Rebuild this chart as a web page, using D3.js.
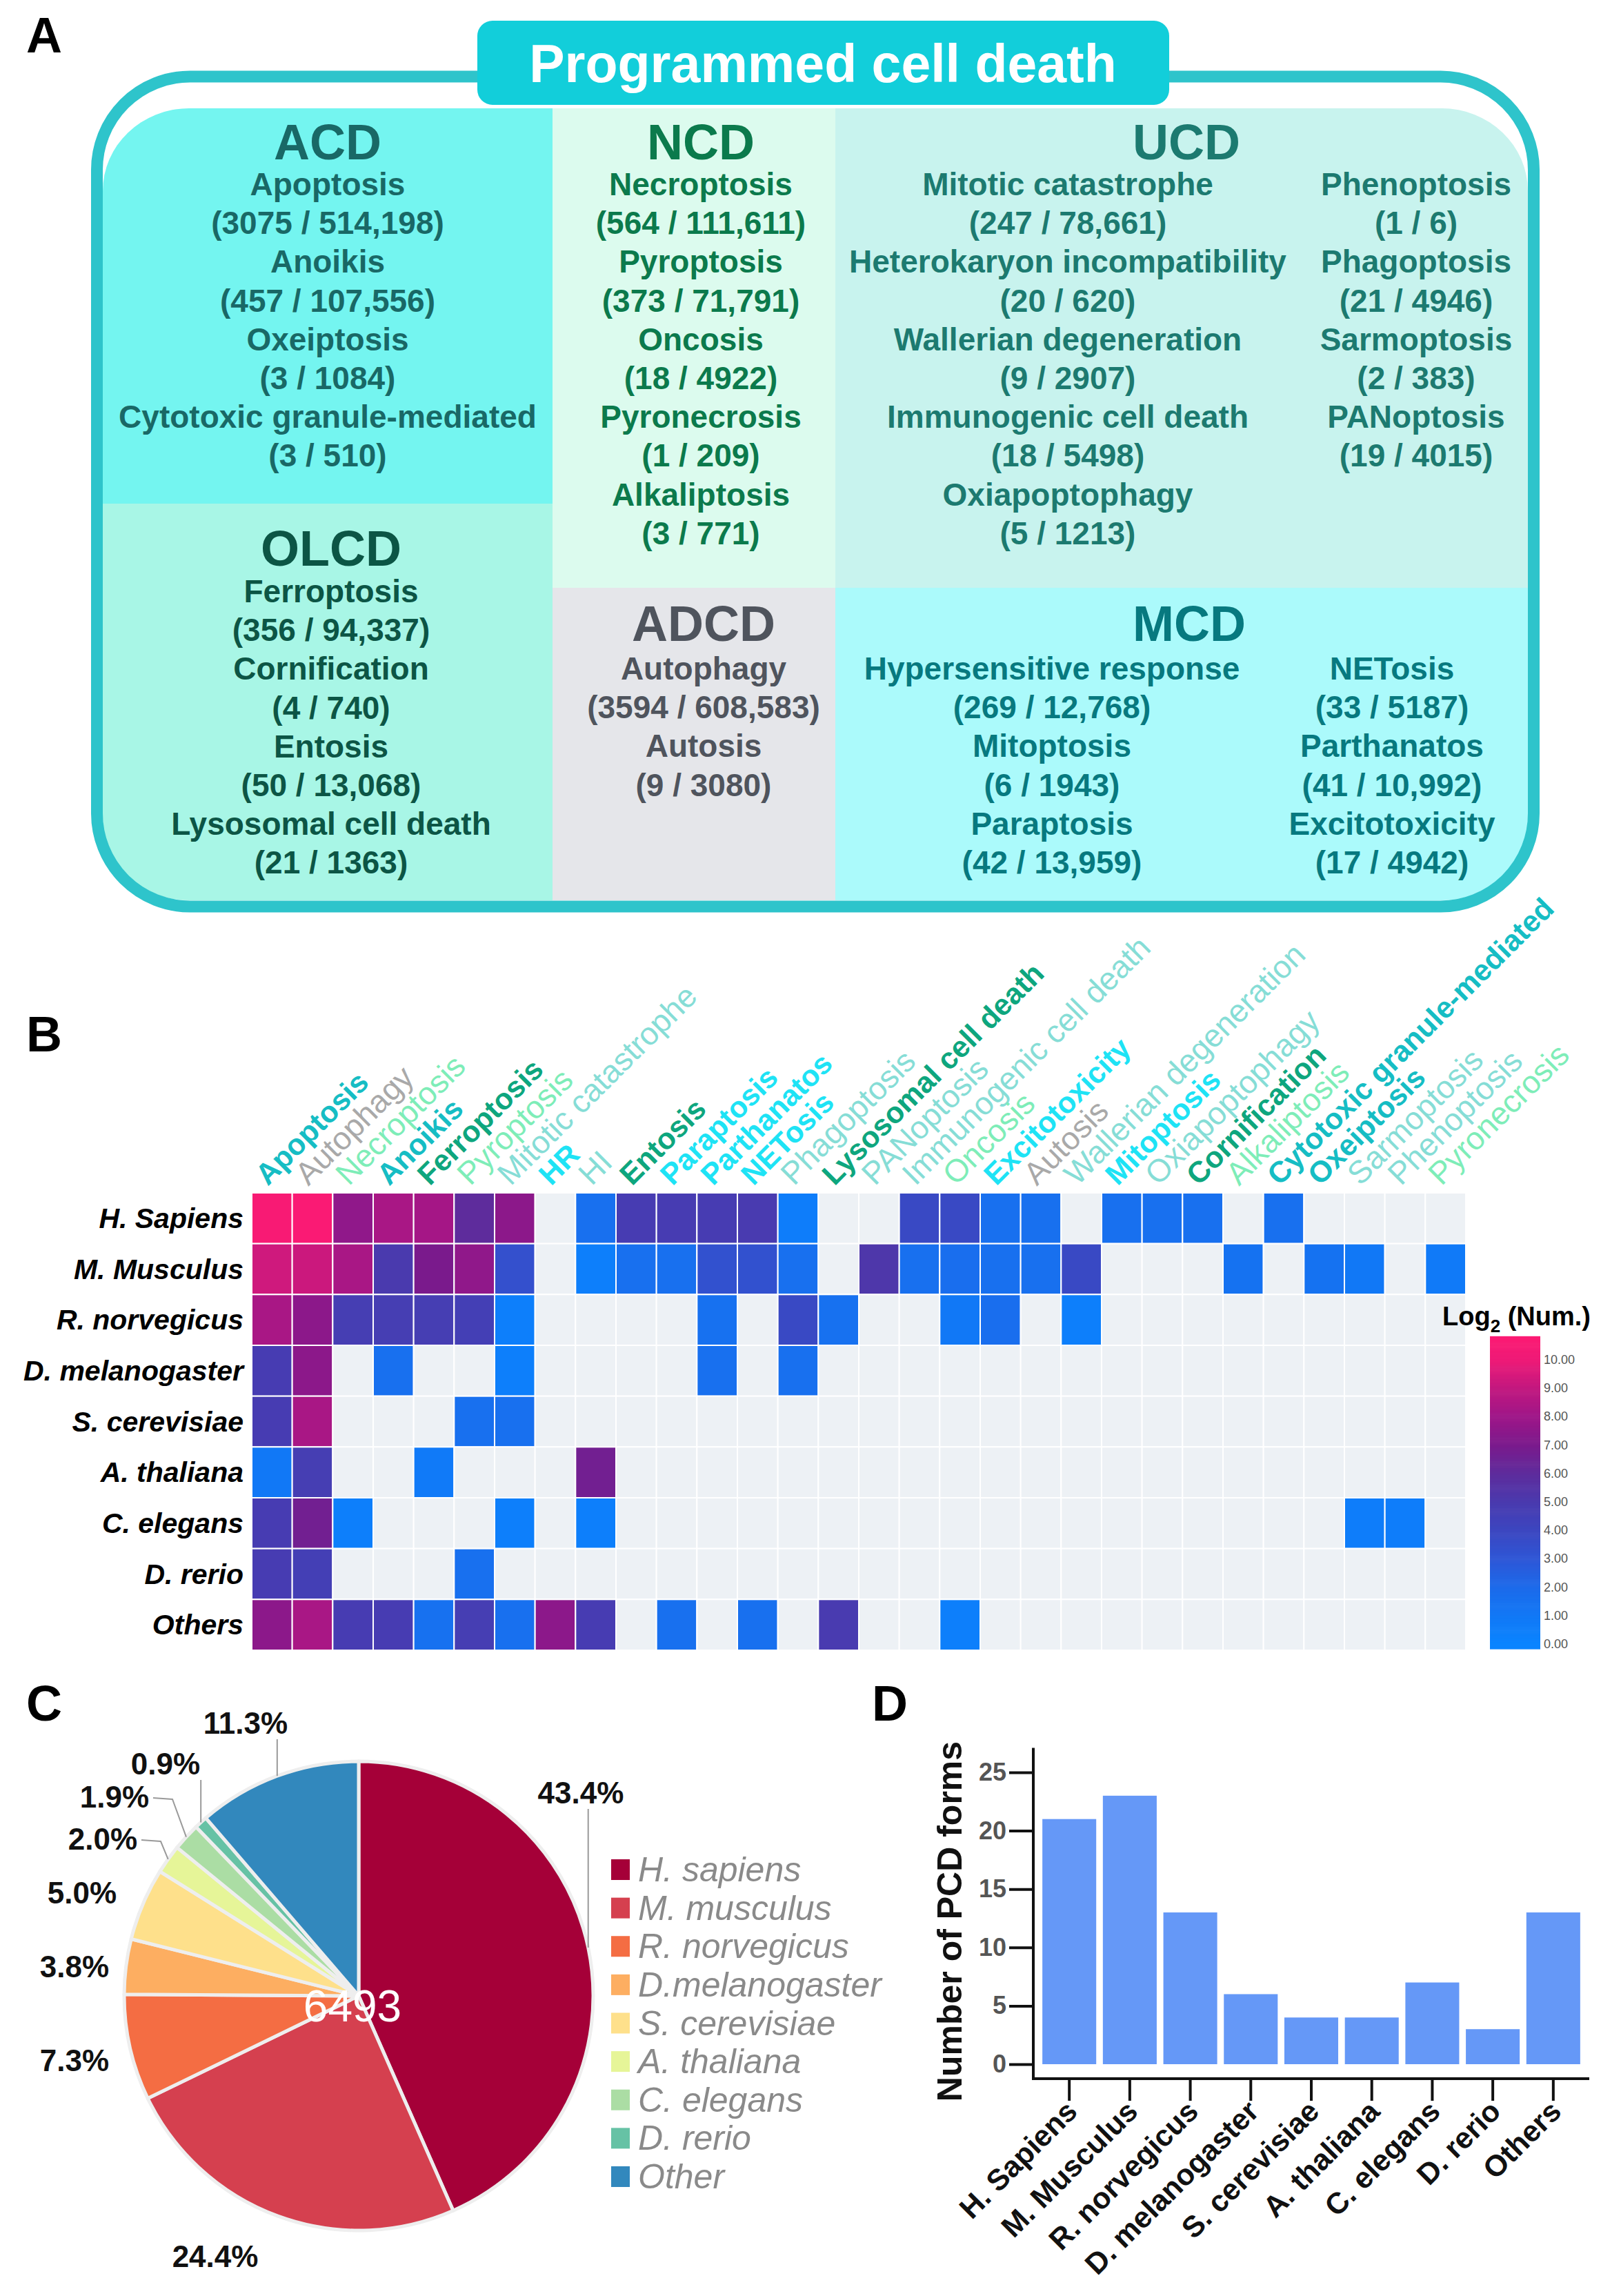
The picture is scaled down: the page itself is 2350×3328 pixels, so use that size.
<!DOCTYPE html>
<html><head><meta charset="utf-8">
<script src="https://cdn.jsdelivr.net/npm/d3@7"></script>
<style>
body{margin:0;background:#fff}
svg{display:block}
text{font-family:"Liberation Sans",Arial,Helvetica,sans-serif}
</style>
</head><body>
<svg id="c" width="2350" height="3328"></svg>
<script>
// ======================= DATA =======================
// Panel A: PCD categories, forms and (species / records) counts
const acdForms = ["Apoptosis","Anoikis","Oxeiptosis","Cytotoxic granule-mediated"];
const acdCounts = [[3075,514198],[457,107556],[3,1084],[3,510]];
const ncdForms = ["Necroptosis","Pyroptosis","Oncosis","Pyronecrosis","Alkaliptosis"];
const ncdCounts = [[564,111611],[373,71791],[18,4922],[1,209],[3,771]];
const ucdFormsLeft = ["Mitotic catastrophe","Heterokaryon incompatibility","Wallerian degeneration","Immunogenic cell death","Oxiapoptophagy"];
const ucdCountsLeft = [[247,78661],[20,620],[9,2907],[18,5498],[5,1213]];
const ucdFormsRight = ["Phenoptosis","Phagoptosis","Sarmoptosis","PANoptosis"];
const ucdCountsRight = [[1,6],[21,4946],[2,383],[19,4015]];
const olcdForms = ["Ferroptosis","Cornification","Entosis","Lysosomal cell death"];
const olcdCounts = [[356,94337],[4,740],[50,13068],[21,1363]];
const adcdForms = ["Autophagy","Autosis"];
const adcdCounts = [[3594,608583],[9,3080]];
const mcdFormsLeft = ["Hypersensitive response","Mitoptosis","Paraptosis"];
const mcdCountsLeft = [[269,12768],[6,1943],[42,13959]];
const mcdFormsRight = ["NETosis","Parthanatos","Excitotoxicity"];
const mcdCountsRight = [[33,5187],[41,10992],[17,4942]];

// Panel B: heatmap (log2 of number), null = no record
const hmForms = ["Apoptosis","Autophagy","Necroptosis","Anoikis","Ferroptosis","Pyroptosis","Mitotic catastrophe","HR","HI","Entosis","Paraptosis","Parthanatos","NETosis","Phagoptosis","Lysosomal cell death","PANoptosis","Immunogenic cell death","Oncosis","Excitotoxicity","Autosis","Wallerian degeneration","Mitoptosis","Oxiapoptophagy","Cornification","Alkaliptosis","Cytotoxic granule-mediated","Oxeiptosis","Sarmoptosis","Phenoptosis","Pyronecrosis"];
const hmFormGroup = ["ACD","ADCD","NCD","ACD","OLCD","NCD","UCD","MCD","UCD","OLCD","MCD","MCD","MCD","UCD","OLCD","UCD","UCD","NCD","MCD","ADCD","UCD","MCD","UCD","OLCD","NCD","ACD","ACD","UCD","UCD","NCD"];
const hmSpecies = ["H. Sapiens","M. Musculus","R. norvegicus","D. melanogaster","S. cerevisiae","A. thaliana","C. elegans","D. rerio","Others"];
const _ = null;
const hmHSapiens     = [10.6,10.7,7.6,8.3,8.2,6.0,7.5,_,1.6,4.8,4.8,4.8,4.9,0.6,_,_,3.8,3.8,1.6,1.6,_,1.6,1.6,1.6,_,1.6,_,_,_,_];
const hmMMusculus    = [9.3,9.2,8.3,5.0,7.0,7.6,3.4,_,0.4,1.6,1.6,3.3,3.3,1.6,_,5.2,1.6,1.7,1.6,1.6,3.8,_,_,_,1.4,_,1.4,1.0,_,0.8];
const hmRNorvegicus  = [8.3,7.5,4.7,4.7,4.7,4.6,0.4,_,_,_,_,1.5,_,3.8,1.5,_,_,1.0,1.7,_,0.4,_,_,_,_,_,_,_,_,_];
const hmDMelanogaster= [4.8,7.5,_,1.6,_,_,0.4,_,_,_,_,1.6,_,1.6,_,_,_,_,_,_,_,_,_,_,_,_,_,_,_,_];
const hmSCerevisiae  = [4.8,8.3,_,_,_,1.6,1.6,_,_,_,_,_,_,_,_,_,_,_,_,_,_,_,_,_,_,_,_,_,_,_];
const hmAThaliana    = [1.0,4.7,_,_,0.8,_,_,_,6.7,_,_,_,_,_,_,_,_,_,_,_,_,_,_,_,_,_,_,_,_,_];
const hmCElegans     = [4.8,6.7,0.4,_,_,_,0.4,_,0.4,_,_,_,_,_,_,_,_,_,_,_,_,_,_,_,_,_,_,0.6,0.6,_];
const hmDRerio       = [4.8,4.6,_,_,_,1.6,_,_,_,_,_,_,_,_,_,_,_,_,_,_,_,_,_,_,_,_,_,_,_,_];
const hmOthers       = [7.5,8.3,4.8,4.8,1.5,4.7,1.6,7.5,4.8,_,1.6,_,1.6,_,4.9,_,_,0.4,_,_,_,_,_,_,_,_,_,_,_,_];
const hmLegendTicks = [0,1,2,3,4,5,6,7,8,9,10];

// Panel C: pie
const pieSpecies = ["H. sapiens","M. musculus","R. norvegicus","D.melanogaster","S. cerevisiae","A. thaliana","C. elegans","D. rerio","Other"];
const piePercent = [43.4,24.4,7.3,3.8,5.0,2.0,1.9,0.9,11.3];
const pieTotal = 6493;

// Panel D: bars
const barSpecies = ["H. Sapiens","M. Musculus","R. norvegicus","D. melanogaster","S. cerevisiae","A. thaliana","C. elegans","D. rerio","Others"];
const barCounts = [21,23,13,6,4,4,7,3,13];
const barTicks = [0,5,10,15,20,25];

// ======================= STYLE / LAYOUT =======================
const FONT = '"Liberation Sans",Arial,Helvetica,sans-serif';
const svg = d3.select("#c");
svg.append("rect").attr("width",2350).attr("height",3328).attr("fill","#fff");

function panelLetter(t,x,y){
  svg.append("text").attr("x",x).attr("y",y).text(t)
    .attr("font-size",72).attr("font-weight","bold").attr("fill","#000");
}
panelLetter("A",38,76);
panelLetter("B",38,1524);
panelLetter("C",38,2494);
panelLetter("D",1264,2494);

// ---------- Panel A ----------
const fmtN = n => n >= 10000 ? d3.format(",")(n) : String(n);
const countText = c => `(${c[0]} / ${fmtN(c[1])})`;

const defs = svg.append("defs");
defs.append("clipPath").attr("id","panelClip")
  .append("rect").attr("x",149).attr("y",157).attr("width",2066).attr("height",1148).attr("rx",125).attr("ry",120);

const boxes = [
  {x0:149,x1:801,y0:157,y1:730,fill:"#74F5F0"},
  {x0:149,x1:801,y0:730,y1:1305,fill:"#A8F6E6"},
  {x0:801,x1:1211,y0:157,y1:852,fill:"#DCFBEE"},
  {x0:801,x1:1211,y0:852,y1:1305,fill:"#E5E6EA"},
  {x0:1211,x1:2215,y0:157,y1:852,fill:"#C8F3EE"},
  {x0:1211,x1:2215,y0:852,y1:1305,fill:"#ABFAFB"}
];
const gA = svg.append("g").attr("clip-path","url(#panelClip)");
gA.selectAll("rect").data(boxes).join("rect")
  .attr("x",d=>d.x0).attr("y",d=>d.y0).attr("width",d=>d.x1-d.x0).attr("height",d=>d.y1-d.y0)
  .attr("fill",d=>d.fill);

svg.append("rect").attr("x",140.5).attr("y",111).attr("width",2083).attr("height",1203)
  .attr("rx",135).attr("ry",135).attr("fill","none").attr("stroke","#2EC4CB").attr("stroke-width",17);

svg.append("rect").attr("x",692).attr("y",30).attr("width",1003).attr("height",122).attr("rx",22)
  .attr("fill","#12CEDA");
svg.append("text").attr("x",1193).attr("y",119).attr("text-anchor","middle")
  .attr("font-size",77).attr("font-weight","bold").attr("fill","#fff").text("Programmed cell death");

const LINE = 56.2;
const groupsA = [
  {name:"ACD", tx:475, ty:231, y0:283, color:"#196866", cols:[{x:475,f:acdForms,c:acdCounts}]},
  {name:"NCD", tx:1016, ty:231, y0:283, color:"#0B7A4C", cols:[{x:1016,f:ncdForms,c:ncdCounts}]},
  {name:"UCD", tx:1720, ty:231, y0:283, color:"#1C7A70", cols:[{x:1548,f:ucdFormsLeft,c:ucdCountsLeft},{x:2053,f:ucdFormsRight,c:ucdCountsRight}]},
  {name:"OLCD", tx:480, ty:820, y0:873, color:"#0C5545", cols:[{x:480,f:olcdForms,c:olcdCounts}]},
  {name:"ADCD", tx:1020, ty:929, y0:985, color:"#4F545D", cols:[{x:1020,f:adcdForms,c:adcdCounts}]},
  {name:"MCD", tx:1724, ty:929, y0:985, color:"#07797F", cols:[{x:1525,f:mcdFormsLeft,c:mcdCountsLeft},{x:2018,f:mcdFormsRight,c:mcdCountsRight}]}
];
groupsA.forEach(g=>{
  svg.append("text").attr("x",g.tx).attr("y",g.ty).attr("text-anchor","middle")
    .attr("font-size",72).attr("font-weight","bold").attr("fill",g.color).text(g.name);
  g.cols.forEach(col=>{
    const lines = [];
    col.f.forEach((f,i)=>{ lines.push(f); lines.push(countText(col.c[i])); });
    svg.append("g").selectAll("text").data(lines).join("text")
      .attr("x",col.x).attr("y",(d,i)=>g.y0 + i*LINE).attr("text-anchor","middle")
      .attr("font-size",46).attr("font-weight","bold").attr("fill",g.color).text(d=>d);
  });
});

// ---------- Panel B: heatmap ----------
const hmRows = [hmHSapiens,hmMMusculus,hmRNorvegicus,hmDMelanogaster,hmSCerevisiae,hmAThaliana,hmCElegans,hmDRerio,hmOthers];
const hmX = d3.scaleBand().domain(hmForms).range([365,2125]);
const hmY = d3.scaleBand().domain(hmSpecies).range([1729,2392]);
const heatColor = d3.scaleLinear()
  .domain([0,1,2,3,4,5,6,7,8,9,10,11])
  .range(["#0A84FF","#1178F6","#1C6AEA","#2E56D6","#3C46C0","#4A3AAE","#5E2C9C","#7A1A8C","#9E1688","#C2187F","#EE1A77","#FF1A72"])
  .clamp(true);
const groupColor = {ACD:"#16BDC4",ADCD:"#A9A9A9",NCD:"#7EEDB8",OLCD:"#0EA67E",UCD:"#86DDD6",MCD:"#1EE3F5"};
const groupWeight = {ACD:"bold",ADCD:"normal",NCD:"normal",OLCD:"bold",UCD:"normal",MCD:"bold"};
const groupSize = {ACD:43,ADCD:46,NCD:46,OLCD:43,UCD:46,MCD:43};

const cells = [];
hmSpecies.forEach((s,ri)=>hmForms.forEach((f,ci)=>cells.push({s,f,v:hmRows[ri][ci]})));
svg.append("g").selectAll("rect").data(cells).join("rect")
  .attr("x",d=>hmX(d.f)).attr("y",d=>hmY(d.s))
  .attr("width",hmX.bandwidth()).attr("height",hmY.bandwidth())
  .attr("fill",d=>d.v===null?"#EDF1F5":heatColor(d.v))
  .attr("stroke","#ffffff").attr("stroke-width",2);

svg.append("g").selectAll("text").data(hmSpecies).join("text")
  .attr("x",353).attr("y",d=>hmY(d)+hmY.bandwidth()/2+14)
  .attr("text-anchor","end").attr("font-size",41).attr("font-weight","bold").attr("font-style","italic")
  .attr("fill","#000").text(d=>d);

svg.append("g").selectAll("text").data(hmForms).join("text")
  .attr("transform",d=>`translate(${hmX(d)+hmX.bandwidth()/2-6},1720) rotate(-45)`)
  .attr("font-size",(d,i)=>groupSize[hmFormGroup[i]])
  .attr("font-weight",(d,i)=>groupWeight[hmFormGroup[i]])
  .attr("fill",(d,i)=>groupColor[hmFormGroup[i]]).text(d=>d);

// legend
const legY = d3.scaleLinear().domain([0,10]).range([2383,1971]);
const legSteps = d3.range(-0.17,10.8,0.05);
svg.append("g").selectAll("rect").data(legSteps).join("rect")
  .attr("x",2160).attr("width",73)
  .attr("y",d=>legY(d+0.05)).attr("height",legY(0)-legY(0.05)+0.6)
  .attr("fill",d=>heatColor(d+0.025));
svg.append("g").selectAll("text").data(hmLegendTicks).join("text")
  .attr("x",2238).attr("y",d=>legY(d)+6).attr("font-size",18).attr("fill","#555")
  .text(d=>d3.format(".2f")(d));
const lt = svg.append("text").attr("x",2091).attr("y",1921).attr("font-size",38).attr("font-weight","bold").attr("fill","#000");
lt.append("tspan").text("Log");
lt.append("tspan").attr("font-size",26).attr("dy",10).text("2");
lt.append("tspan").attr("dy",-10).text(" (Num.)");

// ---------- Panel C: pie ----------
const pieColors = ["#A50038","#D5404F","#F46D43","#FDAE61","#FEE08B","#E6F598","#ABDDA4","#66C2A5","#3288BD"];
const pieCx = 520, pieCy = 2893, pieR = 340;
const pieArcs = d3.pie().sort(null).value(d=>d)(piePercent);
const arcGen = d3.arc().innerRadius(0).outerRadius(pieR);
const gP = svg.append("g").attr("transform",`translate(${pieCx},${pieCy})`);
gP.selectAll("path").data(pieArcs).join("path")
  .attr("d",arcGen).attr("fill",(d,i)=>pieColors[i])
  .attr("stroke","#eeeeee").attr("stroke-width",5).attr("stroke-linejoin","round");
gP.append("text").attr("x",-9).attr("y",37).attr("text-anchor","middle")
  .attr("font-size",64).attr("fill","#fff").text(pieTotal);

// label placement (layout offsets from pie centre) & leader style
const pieLabelPos = [
  {dx:322,dy:-279,lead:"v"},{dx:-208,dy:393,lead:null},{dx:-412,dy:109,lead:null},
  {dx:-412,dy:-27,lead:null},{dx:-401,dy:-134,lead:null},{dx:-371,dy:-212,lead:"h"},
  {dx:-354,dy:-273,lead:"h"},{dx:-280,dy:-321,lead:"v"},{dx:-164,dy:-380,lead:"v"}
];
const midPt = (a,r)=>{const m=(a.startAngle+a.endAngle)/2; return [Math.sin(m)*r,-Math.cos(m)*r];};
pieArcs.forEach((a,i)=>{
  const p = pieLabelPos[i];
  gP.append("text").attr("x",p.dx).attr("y",p.dy).attr("text-anchor","middle")
    .attr("font-size",44).attr("font-weight","bold").attr("fill","#111")
    .text(d3.format(".1f")(piePercent[i])+"%");
  if(p.lead){
    const [mx,my] = midPt(a,pieR);
    let pts;
    if(p.lead==="v") pts = [[mx,p.dy+8],[mx,my]];
    else { const w = 56; pts = [[p.dx+w,p.dy-14],[p.dx+w+28,p.dy-12],[mx,my]]; }
    gP.append("path").attr("d",d3.line()(pts)).attr("fill","none").attr("stroke","#9a9a9a").attr("stroke-width",2);
  }
});

// legend
const pieLegY = d3.scalePoint().domain(pieSpecies).range([2710,3155]);
const gL = svg.append("g");
gL.selectAll("rect").data(pieSpecies).join("rect")
  .attr("x",886).attr("y",d=>pieLegY(d)-15).attr("width",27).attr("height",30)
  .attr("fill",(d,i)=>pieColors[i]);
gL.selectAll("text").data(pieSpecies).join("text")
  .attr("x",925).attr("y",d=>pieLegY(d)+17).attr("font-size",50).attr("font-style","italic")
  .attr("fill","#8a8a8a").text(d=>d);

// ---------- Panel D: bars ----------
const bx = d3.scaleBand().domain(barSpecies).range([1505,2297]).paddingInner(0.11).paddingOuter(0.07);
const by = d3.scaleLinear().domain([0,25]).range([2992,2569]);
const axisX = 1498, axisYpos = by(0)+21;
const gD = svg.append("g");
gD.selectAll("rect").data(barCounts).join("rect")
  .attr("x",(d,i)=>bx(barSpecies[i])).attr("width",bx.bandwidth())
  .attr("y",d=>by(d)).attr("height",d=>by(0)-by(d)).attr("fill","#6598F7");

const yAx = gD.append("g").attr("transform",`translate(${axisX},0)`)
  .call(d3.axisLeft(by).tickValues(barTicks).tickSize(35).tickPadding(4));
yAx.select(".domain").remove();
yAx.selectAll(".tick line").attr("stroke","#111").attr("stroke-width",4);
yAx.selectAll(".tick text").attr("font-size",36).attr("font-weight","bold").attr("fill","#555")
  .attr("font-family",FONT);

gD.append("line").attr("x1",axisX).attr("x2",axisX).attr("y1",by(27.1)).attr("y2",axisYpos+2)
  .attr("stroke","#111").attr("stroke-width",4);
gD.append("line").attr("x1",axisX-2).attr("x2",2304).attr("y1",axisYpos).attr("y2",axisYpos)
  .attr("stroke","#111").attr("stroke-width",4);
gD.selectAll(".xt").data(barSpecies).join("line").attr("class","xt")
  .attr("x1",d=>bx(d)+bx.bandwidth()/2).attr("x2",d=>bx(d)+bx.bandwidth()/2)
  .attr("y1",axisYpos).attr("y2",axisYpos+32).attr("stroke","#111").attr("stroke-width",4);
gD.selectAll(".xl").data(barSpecies).join("text").attr("class","xl")
  .attr("transform",d=>`translate(${bx(d)+bx.bandwidth()/2+14},${axisYpos+50}) rotate(-45)`)
  .attr("text-anchor","end").attr("font-size",43).attr("font-weight","bold").attr("fill","#111").text(d=>d);
gD.append("text").attr("transform","translate(1394,2785) rotate(-90)").attr("text-anchor","middle")
  .attr("font-size",50).attr("font-weight","bold").attr("fill","#111").text("Number of PCD forms");
</script>
</body></html>
